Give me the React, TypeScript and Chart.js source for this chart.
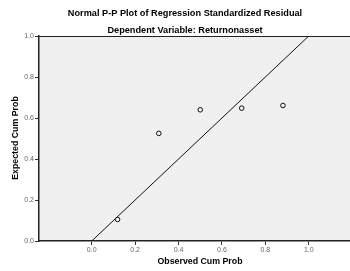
import React, { useEffect, useRef } from "react";
import { Chart, registerables } from "chart.js";

Chart.register(...registerables);

const observedCumProb = [0.119, 0.309, 0.5, 0.691, 0.881];
const expectedCumProb = [0.105, 0.525, 0.64, 0.648, 0.661];
const referenceLineX = [0, 1];
const referenceLineY = [0, 1];
const tickValues = [0, 0.2, 0.4, 0.6, 0.8, 1.0];
const titleText = "Normal P-P Plot of Regression Standardized Residual";
const subtitleText = "Dependent Variable: Returnonasset";
const xTitleText = "Observed Cum Prob";
const yTitleText = "Expected Cum Prob";

const FONT = '"Liberation Sans", Arial, sans-serif';

const decorPlugin = {
  id: "decor",
  beforeDraw(chart: any) {
    const { ctx, chartArea } = chart;
    ctx.save();
    ctx.fillStyle = "#f0f0f0";
    ctx.fillRect(chartArea.left, chartArea.top, chartArea.right - chartArea.left, chartArea.bottom - chartArea.top);
    ctx.restore();
  },
  afterDraw(chart: any) {
    const { ctx, chartArea } = chart;
    ctx.save();
    ctx.strokeStyle = "#222";
    ctx.lineWidth = 1;
    ctx.beginPath();
    ctx.moveTo(chartArea.left, chartArea.top + 0.5);
    ctx.lineTo(chartArea.right, chartArea.top + 0.5);
    ctx.stroke();

    ctx.fillStyle = "#000";
    ctx.textAlign = "center";
    ctx.textBaseline = "middle";
    ctx.font = `bold 9.2px ${FONT}`;
    ctx.fillText(titleText, 185, 13);
    ctx.fillText(subtitleText, 185, 30);
    ctx.font = `bold 8.8px ${FONT}`;
    ctx.fillText(xTitleText, 200, 262);
    ctx.translate(16, 138);
    ctx.rotate(-Math.PI / 2);
    ctx.fillText(yTitleText, 0, 0);
    ctx.restore();
  },
};

export default function App() {
  const ref = useRef<HTMLCanvasElement>(null);
  useEffect(() => {
    if (!ref.current) return;
    const chart = new Chart(ref.current, {
      type: "scatter",
      data: {
        datasets: [
          {
            type: "line",
            data: referenceLineX.map((x, i) => ({ x, y: referenceLineY[i] })),
            borderColor: "#111",
            borderWidth: 1,
            pointRadius: 0,
            fill: false,
          } as any,
          {
            type: "scatter",
            data: observedCumProb.map((x, i) => ({ x, y: expectedCumProb[i] })),
            borderColor: "#111",
            backgroundColor: "rgba(0,0,0,0)",
            borderWidth: 1,
            pointRadius: 2.3,
          },
        ],
      },
      options: {
        animation: false,
        responsive: false,
        maintainAspectRatio: false,
        layout: { autoPadding: false, padding: { top: 36, right: 0, left: 0, bottom: 0 } },
        plugins: { legend: { display: false }, tooltip: { enabled: false }, title: { display: false } },
        scales: {
          x: {
            type: "linear",
            min: -0.243,
            max: 1.19,
            afterBuildTicks: (scale: any) => {
              scale.ticks = tickValues.map((v) => ({ value: v }));
            },
            afterFit: (scale: any) => {
              scale.height = 30;
              scale.paddingLeft = 0;
              scale.paddingRight = 0;
            },
            ticks: {
              callback: (v: any) => Number(v).toFixed(1),
              font: { family: FONT, size: 7 },
              color: "#666",
              padding: 1,
              maxRotation: 0,
              autoSkip: false,
            },
            grid: { drawOnChartArea: false, tickLength: 4, tickColor: "#333", tickWidth: 1 },
            border: { display: true, color: "#222", width: 1.5 },
          },
          y: {
            type: "linear",
            min: 0,
            max: 1,
            afterBuildTicks: (scale: any) => {
              scale.ticks = tickValues.map((v) => ({ value: v }));
            },
            afterFit: (scale: any) => {
              scale.width = 39;
              scale.paddingTop = 0;
              scale.paddingBottom = 0;
            },
            ticks: {
              callback: (v: any) => Number(v).toFixed(1),
              font: { family: FONT, size: 7 },
              color: "#666",
              padding: 1,
              autoSkip: false,
            },
            grid: { drawOnChartArea: false, tickLength: 4, tickColor: "#333", tickWidth: 1 },
            border: { display: true, color: "#222", width: 1.5 },
          },
        },
      },
      plugins: [decorPlugin],
    } as any);
    return () => chart.destroy();
  }, []);
  return (
    <div style={{ position: "fixed", left: 0, top: 0, width: 350, height: 271, background: "#fff" }}>
      <canvas ref={ref} width={350} height={271} style={{ display: "block", width: 350, height: 271 }} />
    </div>
  );
}
